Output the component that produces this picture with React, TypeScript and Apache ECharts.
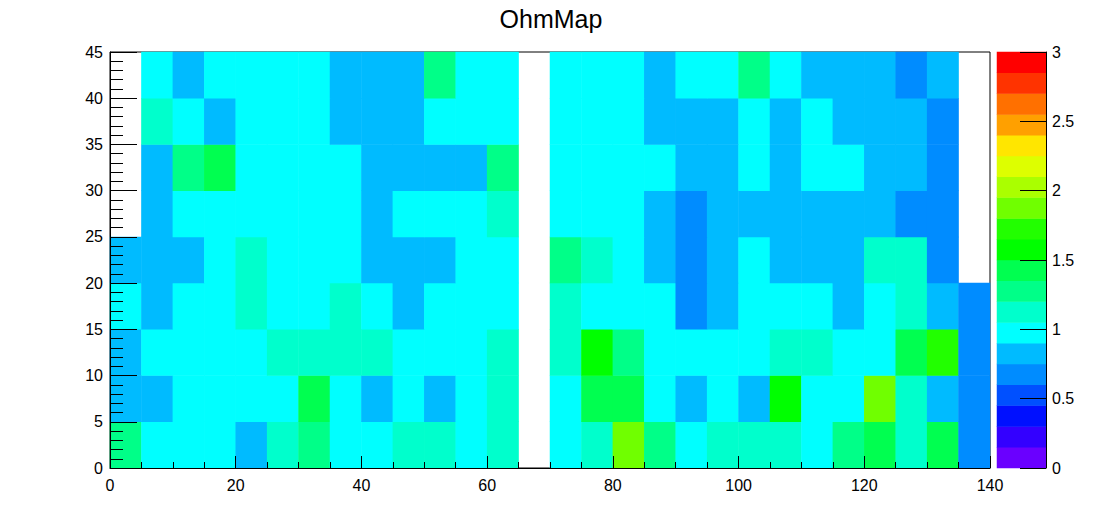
import React, { useEffect, useRef } from "react";
import * as echarts from "echarts";

// Bin edges (5 units wide in x and y)
const xBinStarts = [0, 5, 10, 15, 20, 25, 30, 35, 40, 45, 50, 55, 60, 65, 70, 75, 80, 85, 90, 95, 100, 105, 110, 115, 120, 125, 130, 135];
const yBinStarts = [0, 5, 10, 15, 20, 25, 30, 35, 40];

// Cell values per y bin (null = empty bin)
const rowY0 = [1.28, 0.97, 0.97, 0.97, 0.83, 1.13, 1.28, 0.97, 0.97, 1.13, 1.13, 0.97, 1.13, null, 0.97, 1.13, 1.87, 1.28, 0.97, 1.13, 1.13, 1.13, 0.97, 1.28, 1.43, 1.13, 1.43, 0.68];
const rowY5 = [0.83, 0.83, 0.97, 0.97, 0.97, 0.97, 1.43, 0.97, 0.83, 0.97, 0.83, 0.97, 1.13, null, 0.97, 1.43, 1.43, 0.97, 0.83, 0.97, 0.83, 1.57, 0.97, 0.97, 1.87, 1.13, 0.83, 0.68];
const rowY10 = [0.83, 0.97, 0.97, 0.97, 0.97, 1.13, 1.13, 1.13, 1.13, 0.97, 0.97, 0.97, 1.13, null, 1.13, 1.57, 1.28, 0.97, 0.97, 0.97, 0.97, 1.13, 1.13, 0.97, 0.97, 1.43, 1.72, 0.68];
const rowY15 = [0.97, 0.83, 0.97, 0.97, 1.13, 0.97, 0.97, 1.13, 0.97, 0.83, 0.97, 0.97, 0.97, null, 1.13, 0.97, 0.97, 0.97, 0.68, 0.83, 0.97, 0.97, 0.97, 0.83, 0.97, 1.13, 0.83, 0.68];
const rowY20 = [0.83, 0.83, 0.83, 0.97, 1.13, 0.97, 0.97, 0.97, 0.83, 0.83, 0.83, 0.97, 0.97, null, 1.28, 1.13, 0.97, 0.83, 0.68, 0.83, 0.97, 0.83, 0.83, 0.83, 1.13, 1.13, 0.68, null];
const rowY25 = [null, 0.83, 0.97, 0.97, 0.97, 0.97, 0.97, 0.97, 0.83, 0.97, 0.97, 0.97, 1.13, null, 0.97, 0.97, 0.97, 0.83, 0.68, 0.83, 0.83, 0.83, 0.83, 0.83, 0.83, 0.68, 0.68, null];
const rowY30 = [null, 0.83, 1.28, 1.43, 0.97, 0.97, 0.97, 0.97, 0.83, 0.83, 0.83, 0.83, 1.28, null, 0.97, 0.97, 0.97, 0.97, 0.83, 0.83, 0.97, 0.83, 0.97, 0.97, 0.83, 0.83, 0.68, null];
const rowY35 = [null, 1.13, 0.97, 0.83, 0.97, 0.97, 0.97, 0.83, 0.83, 0.83, 0.97, 0.97, 0.97, null, 0.97, 0.97, 0.97, 0.83, 0.83, 0.83, 0.97, 0.83, 0.97, 0.83, 0.83, 0.83, 0.68, null];
const rowY40 = [null, 0.97, 0.83, 0.97, 0.97, 0.97, 0.97, 0.83, 0.83, 0.83, 1.28, 0.97, 0.97, null, 0.97, 0.97, 0.97, 0.83, 0.97, 0.97, 1.28, 0.97, 0.83, 0.83, 0.83, 0.68, 0.83, null];

const rows = [rowY0, rowY5, rowY10, rowY15, rowY20, rowY25, rowY30, rowY35, rowY40];

// Palette (20 contour levels from 0 to 3)
const paletteMin = 0;
const paletteMax = 3;
const paletteColors = [
  "#6a00ff", "#3300ff", "#0010ff", "#0050ff", "#008cff",
  "#00bbff", "#00ffff", "#00ffcc", "#00ff88", "#00ff50",
  "#00ff00", "#22ff00", "#70ff00", "#aaff00", "#ddff00",
  "#ffe600", "#ffa000", "#ff7000", "#ff3300", "#ff0000",
];

const FONT = "'Liberation Sans', Arial, Helvetica, sans-serif";

export default function App() {
  const ref = useRef<HTMLDivElement>(null);

  useEffect(() => {
    if (!ref.current) return;
    const chart = echarts.init(ref.current, undefined, { renderer: "svg" });

    const step = (paletteMax - paletteMin) / paletteColors.length;
    const pieces = paletteColors.map((color, i) => ({
      gte: paletteMin + i * step,
      lt: paletteMin + (i + 1) * step,
      color,
    }));

    const cellData: any[] = [];
    rows.forEach((row, r) => {
      row.forEach((v, c) => {
        if (v !== null) cellData.push([c, r, v]);
      });
    });

    const levelCats = paletteColors.map((_, i) => String(i));
    const barData = paletteColors.map((_, i) => [0, i, paletteMin + (i + 0.5) * step]);

    const black = { color: "#000", width: 1 };
    const labelStyle = { color: "#000", fontSize: 16, fontFamily: FONT };

    chart.setOption({
      animation: false,
      backgroundColor: "#fff",
      title: {
        text: "OhmMap",
        left: "center",
        top: 1,
        textStyle: { color: "#000", fontSize: 25, fontWeight: "normal", fontFamily: FONT },
      },
      grid: [
        { left: 110, top: 52, width: 880, height: 416, show: true, borderColor: "#000", borderWidth: 1, backgroundColor: "transparent", containLabel: false },
        { left: 997, top: 52, width: 49, height: 416, show: false, containLabel: false },
      ],
      visualMap: {
        type: "piecewise",
        show: false,
        seriesIndex: [0, 1],
        dimension: 2,
        pieces,
      },
      xAxis: [
        { type: "category", gridIndex: 0, data: xBinStarts.map(String), show: false, position: "bottom" },
        {
          type: "value", gridIndex: 0, min: 0, max: 140, interval: 20, position: "bottom", z: 10,
          axisLine: { show: true, lineStyle: black },
          axisTick: { show: true, inside: true, length: 12, lineStyle: black },
          minorTick: { show: true, splitNumber: 4, length: 6, lineStyle: black },
          splitLine: { show: false },
          axisLabel: { ...labelStyle, margin: 9 },
        },
        { type: "category", gridIndex: 1, data: ["z"], show: false },
      ],
      yAxis: [
        { type: "category", gridIndex: 0, data: yBinStarts.map(String), show: false, position: "left" },
        {
          type: "value", gridIndex: 0, min: 0, max: 45, interval: 5, position: "left", z: 10,
          axisLine: { show: true, lineStyle: black },
          axisTick: { show: true, inside: true, length: 27, lineStyle: black },
          minorTick: { show: true, splitNumber: 5, length: 13, lineStyle: black },
          splitLine: { show: false },
          axisLabel: { ...labelStyle, margin: 7, padding: [6, 0, 0, 0] },
        },
        { type: "category", gridIndex: 1, data: levelCats, show: false },
        {
          type: "value", gridIndex: 1, min: 0, max: 3, interval: 0.5, position: "right", z: 10,
          axisLine: { show: true, lineStyle: black },
          axisTick: { show: true, inside: true, length: 26, lineStyle: black },
          minorTick: { show: false },
          splitLine: { show: false },
          axisLabel: { ...labelStyle, margin: 6, padding: [5, 0, 0, 0] },
        },
      ],
      series: [
        {
          type: "heatmap",
          xAxisIndex: 0,
          yAxisIndex: 0,
          data: cellData,
          itemStyle: { borderWidth: 0 },
          emphasis: { disabled: true },
          silent: true,
        },
        {
          type: "heatmap",
          xAxisIndex: 2,
          yAxisIndex: 2,
          data: barData,
          itemStyle: { borderWidth: 0 },
          emphasis: { disabled: true },
          silent: true,
        },
      ],
    });

    return () => chart.dispose();
  }, []);

  return (
    <div
      ref={ref}
      style={{ position: "fixed", left: 0, top: 0, width: 1102, height: 522, background: "#fff" }}
    />
  );
}
